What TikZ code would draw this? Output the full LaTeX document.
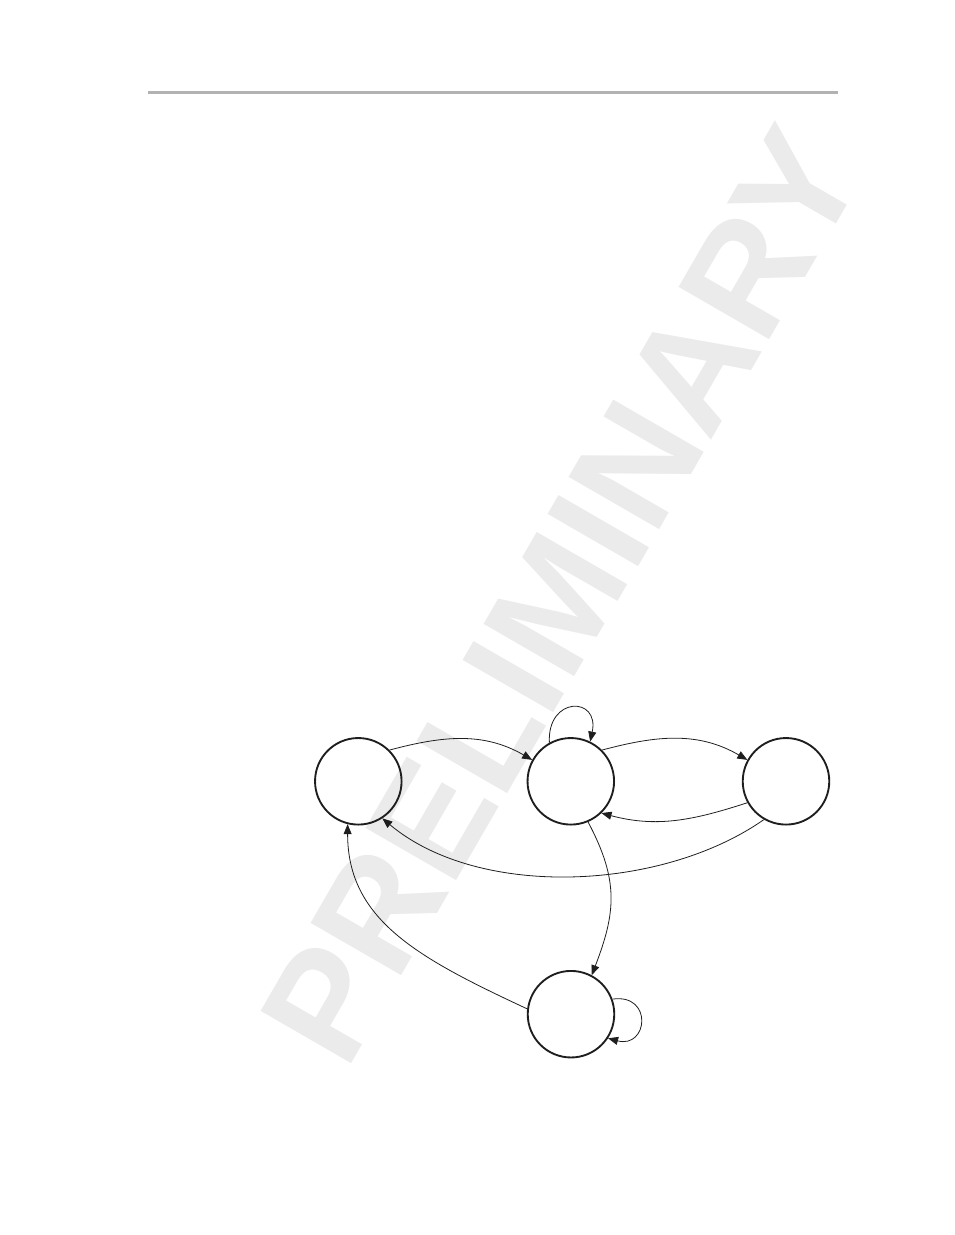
\documentclass[tikz,border=0pt]{standalone}
\usepackage{fontspec}
\newfontfamily\wmfont{Liberation Sans}
\usetikzlibrary{arrows.meta}
\definecolor{wmgrey}{RGB}{235,235,235}
\definecolor{rulegrey}{RGB}{178,178,178}
\definecolor{inkgrey}{RGB}{30,30,30}
\tikzset{
  statenode/.style={circle, draw=inkgrey, line width=1.4pt, minimum size=64.9pt, inner sep=0pt},
  trans/.style={draw=inkgrey, line width=0.6pt, -{Triangle[length=7.5pt,width=6pt]}},
  wmark/.style={font=\wmfont\bfseries\fontsize{114}{114}\selectfont, text=wmgrey, rotate=60, anchor=base west, inner sep=0pt}
}
\begin{document}
\begin{tikzpicture}[x=0.75pt,y=-0.75pt]
\useasboundingbox (0,0) rectangle (954,1235);
% watermark
\node[wmark] (wm) at (346,1073) {PRELIMINARY};
% header rule
\coordinate (rl) at (148,92.3);
\coordinate (rr) at (838,92.3);
\draw[rulegrey, line width=2pt] (rl) -- (rr);
% states
\node[statenode] (A) at (358.3,781.3) {};
\node[statenode] (B) at (570.8,781.3) {};
\node[statenode] (C) at (786,781.3) {};
\node[statenode] (D) at (571,1014.2) {};
% transitions
\draw[trans] (A.45) to[out=15,in=150] (B.151);
\draw[trans] (B.45) to[out=15,in=150] (C.151);
\draw[trans] (C.209) to[out=198,in=-15] (B.-46);
\draw[trans] (C.-120) .. controls +(215:94pt) and +(-40:94pt) .. (A.-57);
\draw[trans] (B.-67) .. controls +(-62:50pt) and +(69:50pt) .. (D.62);
\draw[trans] (D.173) .. controls +(155:90pt) and +(-90:72pt) .. (A.-104);
\draw[trans] (B.119) .. controls +(93:35pt) and +(78:35pt) .. (B.64);
\draw[trans] (D.20) .. controls +(8:31pt) and +(-15:31pt) .. (D.-33);
\end{tikzpicture}
\end{document}
